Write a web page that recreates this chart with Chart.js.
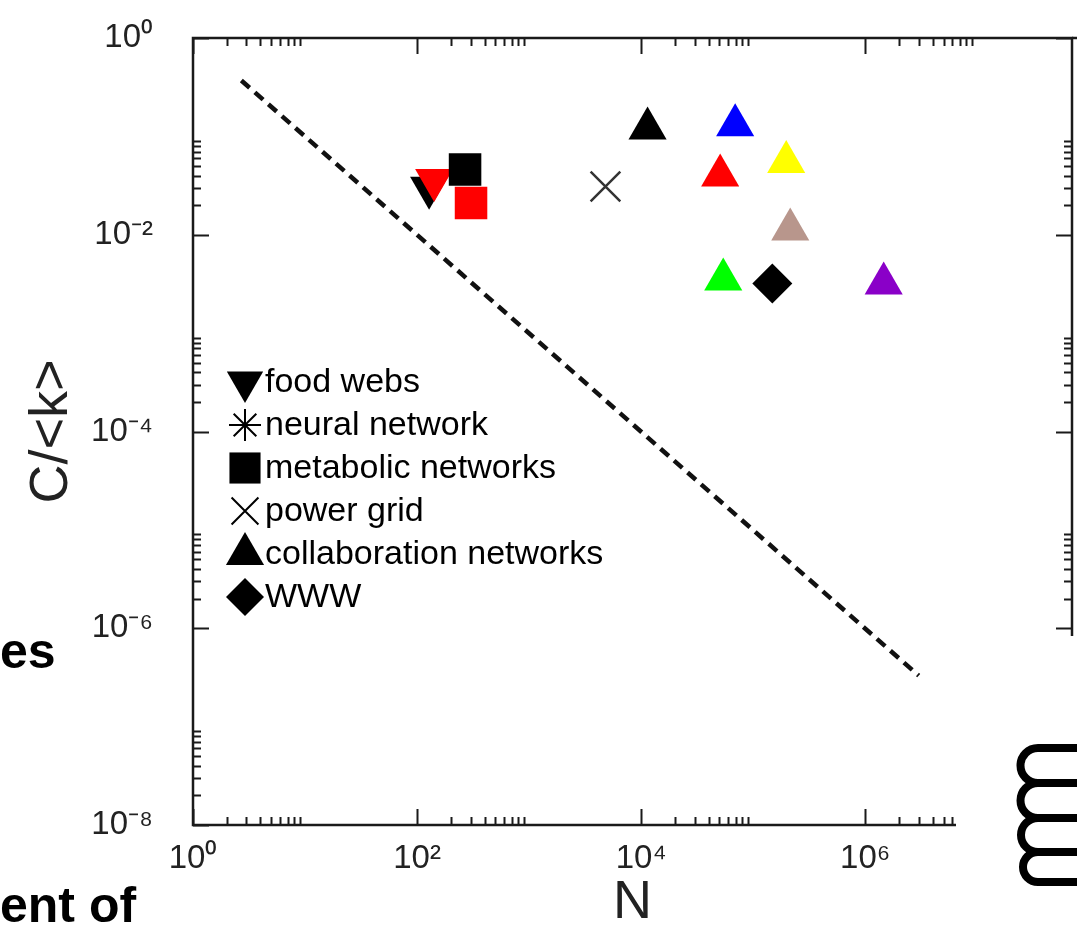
<!DOCTYPE html>
<html>
<head>
<meta charset="utf-8">
<script src="https://cdn.jsdelivr.net/npm/chart.js@4.4.1/dist/chart.umd.min.js"></script>
<style>
  html, body { margin: 0; padding: 0; background: #fff; }
  #wrap { position: relative; width: 1077px; height: 930px; overflow: hidden; }
  #wrap canvas { position: absolute; left: 0; top: 0; }
  .slide { position: absolute; font: bold 50px 'Liberation Sans', Arial, sans-serif; color: #000; line-height: 50px; white-space: nowrap; }
  #cover { position: absolute; left: 956px; top: 636px; width: 121px; height: 294px; background: #fff; }
  #coil { position: absolute; left: 0; top: 0; }
</style>
</head>
<body>
<div id="wrap">
  <canvas id="chart" width="1077" height="930"></canvas>
  <div id="cover"></div>
  <svg id="coil" width="1077" height="930">
    <path d="M1080 748 H1038 A17.5 17.5 0 0 0 1038 783 H1080 M1038 783 A17.5 17.5 0 0 0 1038 818 H1080 M1038 818 A17 17 0 0 0 1038 852 H1080 M1038 852 A15 15 0 0 0 1038 882 H1080"
          fill="none" stroke="#000" stroke-width="8"/>
  </svg>
  <div class="slide" style="left:0;top:626px">es</div>
  <div class="slide" style="left:0;top:880px">ent of</div>
</div>
<script>
const chartFont = "'Liberation Sans', Arial, Helvetica, sans-serif";

// N and C/<k>
const foodWebN = [128, 142];
const foodWebC = [0.030, 0.036];
const foodWebColors = ['#000000', '#ff0000'];

const neuralN = [];
const neuralC = [];

const metabolicN = [268, 303];
const metabolicC = [0.046, 0.021];
const metabolicColors = ['#000000', '#ff0000'];

const powerGridN = [4800];
const powerGridC = [0.031];

const collabN = [11400, 50700, 69000, 197000, 214000, 54000, 1460000];
const collabC = [0.12, 0.040, 0.13, 0.055, 0.0113, 0.0035, 0.0032];
const collabColors = ['#000000', '#ff0000', '#0000ff', '#ffff00', '#b8968c', '#00ff00', '#8a00c8'];

const wwwN = [148000];
const wwwC = [0.0032];

// random graph reference line
const randomN = [2.7, 3.0e6];
const randomC = [0.37, 3.3e-7];

// axis ranges and ticks
const xRange = [1, 7e7];
const yRange = [1e-8, 1];
const xMajorTicks = [1, 100, 1e4, 1e6];
const xTickLabels = ['10\u2070', '10\u00b2', '10\u2074', '10\u2076'];
const yMajorTicks = [1, 1e-2, 1e-4, 1e-6, 1e-8];
const yTickLabels = ['10\u2070', '10\u207b\u00b2', '10\u207b\u2074', '10\u207b\u2076', '10\u207b\u2078'];
const minorSteps = [2, 3, 4, 5, 6, 7, 8, 9];
const xMinorBase = [1, 100, 1e4, 1e6];
const yMinorBase = [1e-2, 1e-4, 1e-6, 1e-8];

const pts = (xs, ys) => xs.map((x, i) => ({ x: x, y: ys[i] }));

function tickList(majors, bases) {
  const list = majors.map(v => ({ value: v, major: true }));
  bases.forEach(b => minorSteps.forEach(k => list.push({ value: k * b, major: false })));
  return list.sort((a, b) => a.value - b.value);
}

function labelFor(value, majors, labels) {
  const i = majors.findIndex(m => Math.abs(Math.log10(m) - Math.log10(value)) < 1e-6);
  return i >= 0 ? labels[i] : '';
}

// inward gnuplot-style ticks and frame
const frameTicks = {
  id: 'frameTicks',
  afterDraw(chart) {
    const { ctx, chartArea: a, scales } = chart;
    ctx.save();
    ctx.strokeStyle = '#1a1a1a';
    ctx.lineWidth = 2;
    scales.x.ticks.forEach(t => {
      const px = Math.round(scales.x.getPixelForValue(t.value)) + 0.5;
      const len = t.major ? 16 : 8;
      ctx.beginPath();
      ctx.moveTo(px, a.bottom); ctx.lineTo(px, a.bottom - len);
      ctx.moveTo(px, a.top); ctx.lineTo(px, a.top + len);
      ctx.stroke();
    });
    scales.y.ticks.forEach(t => {
      const py = Math.round(scales.y.getPixelForValue(t.value)) + 0.5;
      const len = t.major ? 16 : 8;
      ctx.beginPath();
      ctx.moveTo(a.left, py); ctx.lineTo(a.left + len, py);
      ctx.moveTo(a.right, py); ctx.lineTo(a.right - len, py);
      ctx.stroke();
    });
    ctx.lineWidth = 2.5;
    ctx.strokeRect(a.left, a.top, a.right - a.left, a.bottom - a.top);
    ctx.beginPath();
    ctx.moveTo(a.right, a.top); ctx.lineTo(chart.width, a.top);
    ctx.stroke();
    ctx.restore();
  }
};

// legend drawn inside the plot
const innerLegend = {
  id: 'innerLegend',
  afterDraw(chart) {
    const { ctx, chartArea: a } = chart;
    const items = chart.data.datasets.filter(d => d.inLegend);
    ctx.save();
    ctx.font = '34px ' + chartFont;
    ctx.textBaseline = 'middle';
    items.forEach((d, i) => {
      const y = a.top + 344 + i * 43;
      const x = a.left + 52;
      ctx.fillStyle = '#000';
      ctx.strokeStyle = '#000';
      ctx.lineWidth = d.legendLine || 0;
      Chart.helpers.drawPoint(ctx, {
        pointStyle: d.pointStyle,
        rotation: d.pointRotation || 0,
        radius: d.legendRadius,
        borderWidth: d.legendLine || 0
      }, x, y);
      ctx.fillStyle = '#000';
      ctx.fillText(d.label, a.left + 72, y + 1);
    });
    ctx.restore();
  }
};

const hiddenTickMarks = (len) => ({
  display: true, drawOnChartArea: false, drawTicks: true,
  tickLength: len, tickColor: 'rgba(0,0,0,0)'
});

new Chart(document.getElementById('chart').getContext('2d'), {
  type: 'scatter',
  data: {
    datasets: [
      {
        label: 'food webs', inLegend: true, order: 2,
        data: pts(foodWebN, foodWebC),
        pointStyle: 'triangle', pointRotation: 180, pointRadius: 22, legendRadius: 21,
        pointBackgroundColor: foodWebColors, pointBorderWidth: 0
      },
      {
        label: 'neural network', inLegend: true, order: 3,
        data: pts(neuralN, neuralC),
        pointStyle: 'star', pointRadius: 16, legendRadius: 16, legendLine: 2,
        pointBorderColor: '#000', pointBorderWidth: 2
      },
      {
        label: 'metabolic networks', inLegend: true, order: 1,
        data: pts(metabolicN, metabolicC),
        pointStyle: 'rect', pointRadius: 23, legendRadius: 22,
        pointBackgroundColor: metabolicColors, pointBorderWidth: 0
      },
      {
        label: 'power grid', inLegend: true, order: 3,
        data: pts(powerGridN, powerGridC),
        pointStyle: 'crossRot', pointRadius: 21, legendRadius: 19, legendLine: 2,
        pointBorderColor: '#333', pointBorderWidth: 2.5
      },
      {
        label: 'collaboration networks', inLegend: true, order: 3,
        data: pts(collabN, collabC),
        pointStyle: 'triangle', pointRadius: 22, legendRadius: 22,
        pointBackgroundColor: collabColors, pointBorderWidth: 0
      },
      {
        label: 'WWW', inLegend: true, order: 3,
        data: pts(wwwN, wwwC),
        pointStyle: 'rectRot', pointRadius: 20, legendRadius: 19,
        pointBackgroundColor: '#000', pointBorderWidth: 0
      },
      {
        type: 'line', label: 'random graph', order: 10,
        data: pts(randomN, randomC),
        borderColor: '#111', borderWidth: 4.5, borderDash: [11, 7],
        pointRadius: 0, fill: false
      }
    ]
  },
  options: {
    responsive: false,
    devicePixelRatio: 1,
    animation: false,
    events: [],
    layout: { autoPadding: false, padding: { left: 0, top: 38, right: 5, bottom: 0 } },
    plugins: { legend: { display: false }, tooltip: { enabled: false } },
    scales: {
      x: {
        type: 'logarithmic', bounds: 'data', min: xRange[0], max: xRange[1],
        afterBuildTicks: s => {
          s.ticks = tickList(xMajorTicks, xMinorBase);
          s.min = xRange[0]; s.max = xRange[1];
        },
        afterFit: s => { s.height = 105; s.paddingLeft = 0; s.paddingRight = 0; },
        grid: hiddenTickMarks(14),
        border: { display: false },
        ticks: {
          autoSkip: false, maxRotation: 0, padding: 0, color: '#222',
          font: { family: chartFont, size: 33 },
          callback: v => labelFor(v, xMajorTicks, xTickLabels)
        },
        title: {
          display: true, text: 'N', color: '#222',
          font: { family: chartFont, size: 54, lineHeight: 1.0 },
          padding: { top: 0, bottom: 0 }
        }
      },
      y: {
        type: 'logarithmic', bounds: 'data', min: yRange[0], max: yRange[1],
        afterBuildTicks: s => {
          s.ticks = tickList(yMajorTicks, yMinorBase);
          s.min = yRange[0]; s.max = yRange[1];
        },
        afterFit: s => { s.width = 193; s.paddingTop = 0; s.paddingBottom = 0; },
        grid: hiddenTickMarks(40),
        border: { display: false },
        ticks: {
          autoSkip: false, padding: 0, color: '#222',
          font: { family: chartFont, size: 33 },
          callback: v => labelFor(v, yMajorTicks, yTickLabels)
        },
        title: {
          display: true, text: 'C/<k>', color: '#222',
          font: { family: chartFont, size: 54 },
          padding: { top: 20, bottom: 0 }
        }
      }
    }
  },
  plugins: [frameTicks, innerLegend]
});
</script>
</body>
</html>
